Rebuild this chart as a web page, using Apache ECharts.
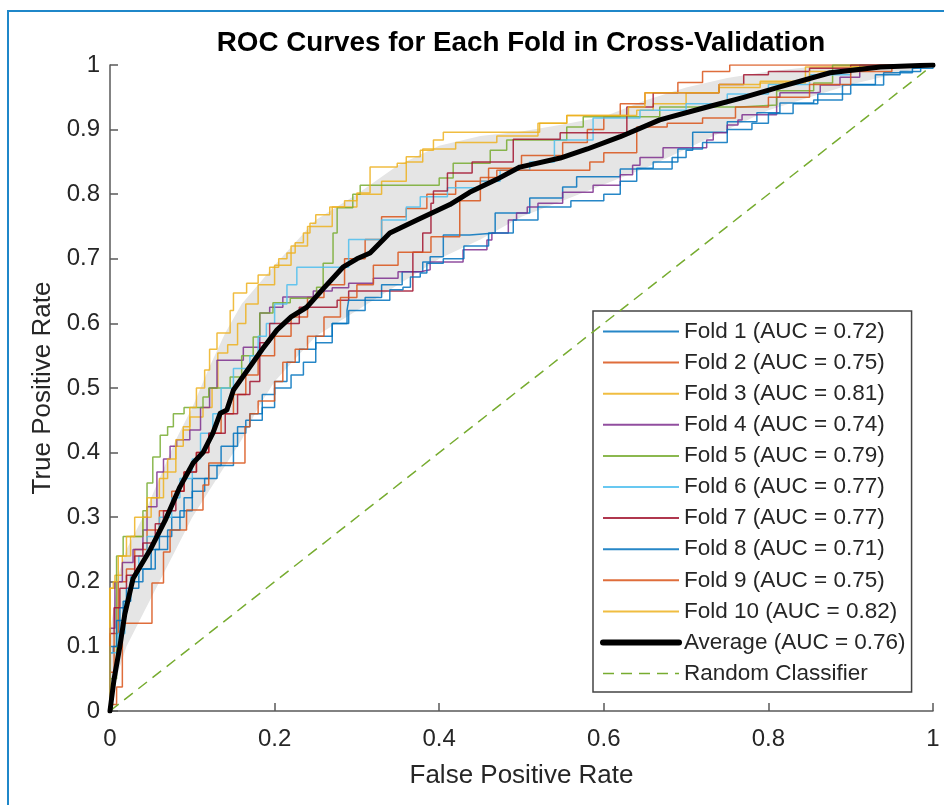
<!DOCTYPE html>
<html>
<head>
<meta charset="utf-8">
<script src="https://cdn.jsdelivr.net/npm/echarts@6/dist/echarts.min.js"></script>
<style>
  html, body { margin: 0; padding: 0; background: #fff; }
  #chart { width: 944px; height: 805px; }
</style>
</head>
<body>
<div id="chart"></div>
<script>
// ROC curves per CV fold, MATLAB-look. Fold points are [fpr, tpr] staircase corners:
// each pair = level tpr held until fpr (drawn with step:'start').
const FONT = '"Liberation Sans", Arial, Helvetica, sans-serif';
const INK = "#262626";

const FOLD_AUC = ["0.72", "0.75", "0.81", "0.74", "0.79", "0.77", "0.77", "0.71", "0.75", "0.82"];
const FOLD_COLORS = ["#0072BD", "#D95319", "#EDB120", "#7E2F8E", "#77AC30",
                     "#4DBEEE", "#A2142F", "#0072BD", "#D95319", "#EDB120"];

const fold1 = [[0,0],[0.004,0.09],[0.012,0.10],[0.02,0.16],[0.035,0.19],[0.05,0.22],[0.06,0.25],[0.075,0.27],[0.09,0.30],[0.10,0.33],[0.12,0.36],[0.135,0.38],[0.155,0.41],[0.17,0.44],[0.185,0.46],[0.20,0.49],[0.215,0.51],[0.23,0.54],[0.25,0.56],[0.27,0.58],[0.29,0.60],[0.31,0.62],[0.33,0.64],[0.355,0.66],[0.38,0.68],[0.389,0.695],[0.405,0.703],[0.437,0.737],[0.468,0.74],[0.51,0.771],[0.55,0.794],[0.567,0.811],[0.62,0.827],[0.683,0.839],[0.70,0.857],[0.708,0.868],[0.75,0.896],[0.786,0.912],[0.814,0.926],[0.855,0.941],[0.89,0.946],[0.94,0.969],[0.975,0.988],[1,0.995],[1,1]];
const fold2 = [[0,0],[0.005,0.06],[0.01,0.12],[0.02,0.20],[0.03,0.22],[0.045,0.25],[0.06,0.28],[0.075,0.31],[0.09,0.34],[0.105,0.37],[0.12,0.40],[0.135,0.43],[0.15,0.46],[0.165,0.49],[0.18,0.52],[0.20,0.55],[0.22,0.58],[0.24,0.61],[0.26,0.64],[0.285,0.66],[0.31,0.70],[0.33,0.73],[0.36,0.765],[0.385,0.778],[0.42,0.80],[0.46,0.82],[0.50,0.84],[0.55,0.86],[0.58,0.88],[0.60,0.90],[0.62,0.92],[0.65,0.94],[0.69,0.957],[0.72,0.973],[0.753,0.99],[1,1]];
const fold3 = [[0,0],[0,0.10],[0.006,0.19],[0.015,0.21],[0.025,0.24],[0.04,0.27],[0.05,0.30],[0.065,0.33],[0.08,0.37],[0.089,0.41],[0.097,0.435],[0.113,0.455],[0.124,0.47],[0.131,0.50],[0.143,0.554],[0.155,0.567],[0.165,0.60],[0.18,0.63],[0.20,0.66],[0.22,0.69],[0.24,0.72],[0.27,0.75],[0.30,0.78],[0.33,0.80],[0.36,0.82],[0.38,0.85],[0.42,0.87],[0.47,0.88],[0.52,0.89],[0.555,0.91],[0.64,0.922],[0.66,0.93],[0.70,0.94],[0.74,0.957],[0.79,0.965],[0.845,0.972],[0.975,0.997],[1,1]];
const fold4 = [[0,0],[0,0.105],[0.006,0.128],[0.015,0.20],[0.028,0.23],[0.04,0.25],[0.045,0.28],[0.057,0.316],[0.065,0.37],[0.073,0.39],[0.081,0.41],[0.097,0.42],[0.11,0.435],[0.121,0.47],[0.13,0.50],[0.162,0.543],[0.182,0.563],[0.194,0.616],[0.21,0.625],[0.247,0.641],[0.27,0.65],[0.29,0.655],[0.32,0.662],[0.35,0.67],[0.377,0.68],[0.389,0.683],[0.429,0.695],[0.458,0.714],[0.464,0.729],[0.484,0.74],[0.494,0.76],[0.507,0.771],[0.52,0.78],[0.55,0.786],[0.587,0.803],[0.62,0.814],[0.635,0.83],[0.644,0.845],[0.672,0.857],[0.725,0.872],[0.733,0.884],[0.75,0.895],[0.763,0.907],[0.768,0.915],[0.81,0.923],[0.814,0.95],[0.859,0.957],[0.863,0.958],[0.887,0.969],[0.911,0.981],[1,1]];
const fold5 = [[0,0],[0.008,0.05],[0.016,0.24],[0.04,0.27],[0.045,0.31],[0.052,0.353],[0.061,0.393],[0.07,0.427],[0.077,0.44],[0.09,0.46],[0.113,0.47],[0.12,0.486],[0.146,0.50],[0.16,0.517],[0.174,0.55],[0.182,0.579],[0.198,0.616],[0.219,0.632],[0.251,0.639],[0.259,0.656],[0.271,0.693],[0.276,0.74],[0.295,0.779],[0.304,0.80],[0.40,0.814],[0.417,0.825],[0.462,0.848],[0.482,0.868],[0.555,0.884],[0.575,0.904],[0.668,0.92],[0.766,0.935],[0.81,0.938],[0.855,0.96],[0.878,0.972],[1,1]];
const fold6 = [[0,0],[0.01,0.09],[0.018,0.12],[0.025,0.17],[0.035,0.21],[0.045,0.24],[0.06,0.27],[0.075,0.30],[0.085,0.33],[0.10,0.36],[0.11,0.39],[0.125,0.43],[0.135,0.46],[0.15,0.50],[0.17,0.53],[0.18,0.55],[0.19,0.58],[0.20,0.60],[0.215,0.63],[0.227,0.66],[0.29,0.687],[0.33,0.73],[0.36,0.76],[0.377,0.78],[0.41,0.796],[0.45,0.81],[0.474,0.82],[0.51,0.837],[0.54,0.85],[0.587,0.884],[0.644,0.918],[0.70,0.93],[0.75,0.94],[0.80,0.955],[0.85,0.97],[0.90,0.985],[0.95,0.995],[1,1]];
const fold7 = [[0,0],[0.005,0.12],[0.012,0.16],[0.02,0.19],[0.03,0.21],[0.04,0.24],[0.055,0.26],[0.065,0.29],[0.08,0.31],[0.09,0.34],[0.105,0.37],[0.12,0.40],[0.14,0.43],[0.155,0.46],[0.17,0.49],[0.182,0.51],[0.194,0.57],[0.23,0.60],[0.276,0.625],[0.29,0.636],[0.368,0.65],[0.38,0.71],[0.39,0.74],[0.393,0.786],[0.41,0.805],[0.44,0.833],[0.49,0.85],[0.547,0.885],[0.628,0.895],[0.66,0.935],[0.74,0.957],[0.77,0.97],[0.80,0.985],[0.85,0.99],[0.90,0.995],[1,1]];
const fold8 = [[0,0],[0.008,0.10],[0.016,0.14],[0.025,0.17],[0.04,0.20],[0.055,0.22],[0.07,0.25],[0.085,0.28],[0.10,0.31],[0.115,0.34],[0.13,0.36],[0.15,0.38],[0.165,0.43],[0.185,0.45],[0.20,0.47],[0.22,0.50],[0.235,0.52],[0.25,0.54],[0.27,0.57],[0.288,0.60],[0.29,0.62],[0.34,0.636],[0.356,0.652],[0.365,0.656],[0.377,0.672],[0.385,0.678],[0.405,0.693],[0.43,0.70],[0.46,0.72],[0.49,0.74],[0.52,0.76],[0.56,0.78],[0.60,0.79],[0.62,0.80],[0.64,0.82],[0.66,0.84],[0.69,0.85],[0.72,0.87],[0.75,0.88],[0.78,0.90],[0.80,0.91],[0.83,0.925],[0.86,0.94],[0.90,0.955],[0.93,0.97],[0.96,0.985],[0.985,0.99],[1,1]];
const fold9 = [[0,0],[0.008,0.01],[0.015,0.037],[0.051,0.136],[0.065,0.198],[0.073,0.246],[0.093,0.28],[0.113,0.311],[0.12,0.35],[0.164,0.384],[0.17,0.44],[0.18,0.46],[0.20,0.48],[0.21,0.51],[0.225,0.54],[0.24,0.56],[0.26,0.58],[0.28,0.61],[0.30,0.64],[0.32,0.66],[0.35,0.69],[0.39,0.71],[0.425,0.734],[0.45,0.79],[0.47,0.826],[0.583,0.837],[0.60,0.85],[0.64,0.864],[0.677,0.904],[0.72,0.91],[0.76,0.918],[0.80,0.935],[0.85,0.95],[0.90,0.97],[0.95,0.99],[1,1]];
const fold10 = [[0,0],[0.004,0.19],[0.01,0.20],[0.02,0.24],[0.03,0.27],[0.045,0.30],[0.06,0.33],[0.07,0.36],[0.08,0.39],[0.089,0.42],[0.097,0.44],[0.105,0.47],[0.115,0.50],[0.121,0.528],[0.13,0.56],[0.146,0.585],[0.15,0.62],[0.166,0.647],[0.18,0.662],[0.194,0.675],[0.205,0.687],[0.215,0.70],[0.225,0.709],[0.235,0.725],[0.243,0.74],[0.25,0.755],[0.267,0.768],[0.285,0.78],[0.30,0.79],[0.316,0.802],[0.349,0.842],[0.36,0.848],[0.377,0.858],[0.393,0.868],[0.405,0.884],[0.522,0.896],[0.555,0.91],[0.63,0.922],[0.65,0.935],[0.74,0.957],[0.79,0.97],[0.85,0.975],[0.90,0.99],[0.97,0.997],[1,1]];
const FOLDS = [fold1, fold2, fold3, fold4, fold5, fold6, fold7, fold8, fold9, fold10];

// mean ROC (thick black)
const avgX = [0,0.005,0.012,0.018,0.028,0.049,0.067,0.085,0.101,0.113,0.125,0.134,0.142,0.15,0.17,0.185,0.203,0.22,0.239,0.26,0.283,0.30,0.316,0.34,0.373,0.413,0.437,0.47,0.498,0.547,0.58,0.62,0.668,0.72,0.77,0.814,0.875,0.936,1];
const avgY = [0,0.05,0.10,0.15,0.205,0.25,0.295,0.347,0.384,0.40,0.43,0.461,0.466,0.497,0.533,0.56,0.59,0.61,0.625,0.655,0.687,0.70,0.709,0.74,0.76,0.784,0.803,0.823,0.842,0.856,0.87,0.889,0.915,0.933,0.95,0.966,0.988,0.997,1];
const AVG_AUC = "0.76";

// shaded spread band
const bandX     = [0,0.01,0.02,0.04,0.06,0.08,0.10,0.12,0.14,0.16,0.18,0.20,0.25,0.30,0.35,0.40,0.45,0.50,0.55,0.60,0.65,0.70,0.75,0.80,0.85,0.90,0.95,1.00];
const bandUpper = [0.12,0.21,0.25,0.30,0.36,0.42,0.47,0.53,0.585,0.63,0.66,0.69,0.76,0.80,0.845,0.875,0.89,0.897,0.908,0.92,0.945,0.965,0.98,0.99,0.997,1.0,1.0,1.0];
const bandLower = [0.0,0.06,0.10,0.15,0.20,0.25,0.30,0.34,0.38,0.42,0.47,0.51,0.58,0.62,0.66,0.70,0.73,0.765,0.79,0.815,0.84,0.87,0.90,0.93,0.95,0.97,0.985,1.0];

const diagX = [0, 1];
const diagY = [0, 1];

const foldName = (i) => `Fold ${i + 1} (AUC = ${FOLD_AUC[i]})`;
const AVG_NAME = `Average (AUC = ${AVG_AUC})`;
const RAND_NAME = "Random Classifier";

const chart = echarts.init(document.getElementById("chart"));

const foldSeries = FOLDS.map((pts, i) => ({
  name: foldName(i), type: "line", data: pts, step: "start", symbol: "none", z: 3,
  lineStyle: { color: FOLD_COLORS[i], width: 1.5, opacity: 0.85 },
  itemStyle: { color: FOLD_COLORS[i] },
}));

const legendData = [
  ...FOLDS.map((_, i) => ({ name: foldName(i) })),
  { name: AVG_NAME, lineStyle: { width: 6 } },
  { name: RAND_NAME, lineStyle: { width: 1.5 } },
];

chart.setOption({
  animation: false,
  grid: { left: 110, right: 11, top: 65, bottom: 94 },
  graphic: [
    { type: "rect", silent: true, shape: { x: 8, y: 11, width: 1000, height: 900 },
      style: { fill: "none", stroke: "#1f87c9", lineWidth: 2 } },
    { type: "text", silent: true, x: 521, y: 43,
      style: { text: "ROC Curves for Each Fold in Cross-Validation", fontFamily: FONT,
        fontSize: 27.8, fontWeight: "bold", fill: "#000", align: "center", verticalAlign: "middle" } },
  ],
  legend: {
    left: 593, top: 311, orient: "vertical", data: legendData,
    itemWidth: 76, itemHeight: 14, itemGap: 8.1, padding: [9, 6, 7, 7],
    backgroundColor: "#fff", borderColor: "#444", borderWidth: 1.5, borderRadius: 0,
    selectedMode: false,
    itemStyle: { color: "transparent", borderWidth: 0, opacity: 0 },
    textStyle: { fontFamily: FONT, fontSize: 22.5, color: INK },
  },
  xAxis: {
    type: "value", min: 0, max: 1, interval: 0.2,
    axisLine: { show: true, lineStyle: { color: "#5a5a5a", width: 1.5 } },
    axisTick: { show: true, inside: true, length: 8, lineStyle: { color: "#5a5a5a", width: 1.5 } },
    axisLabel: { fontFamily: FONT, fontSize: 24, color: INK, margin: 16 },
    splitLine: { show: false },
    name: "False Positive Rate", nameLocation: "middle", nameGap: 52,
    nameTextStyle: { fontFamily: FONT, fontSize: 26, color: INK },
  },
  yAxis: {
    type: "value", min: 0, max: 1, interval: 0.1,
    axisLine: { show: true, lineStyle: { color: "#5a5a5a", width: 1.5 } },
    axisTick: { show: true, inside: true, length: 8, lineStyle: { color: "#5a5a5a", width: 1.5 } },
    axisLabel: { fontFamily: FONT, fontSize: 24, color: INK, margin: 10 },
    splitLine: { show: false },
    name: "True Positive Rate", nameLocation: "middle", nameGap: 54,
    nameTextStyle: { fontFamily: FONT, fontSize: 26, color: INK },
  },
  series: [
    { name: "spread", type: "custom", silent: true, z: 1, data: [[0, 0]],
      renderItem: (params, api) => {
        const pts = [];
        for (let i = 0; i < bandX.length; i++) pts.push(api.coord([bandX[i], bandUpper[i]]));
        for (let i = bandX.length - 1; i >= 0; i--) pts.push(api.coord([bandX[i], bandLower[i]]));
        return { type: "polygon", shape: { points: pts }, style: { fill: "#e5e5e5" } };
      } },
    ...foldSeries,
    { name: AVG_NAME, type: "line", data: avgX.map((x, i) => [x, avgY[i]]), symbol: "none", z: 5,
      lineStyle: { color: "#000", width: 5, join: "round", cap: "round" }, itemStyle: { color: "#000" } },
    { name: RAND_NAME, type: "line", data: diagX.map((x, i) => [x, diagY[i]]), symbol: "none", z: 4,
      lineStyle: { color: "#77AC30", width: 1.5, type: [11, 7] }, itemStyle: { color: "#77AC30" } },
  ],
});
</script>
</body>
</html>
